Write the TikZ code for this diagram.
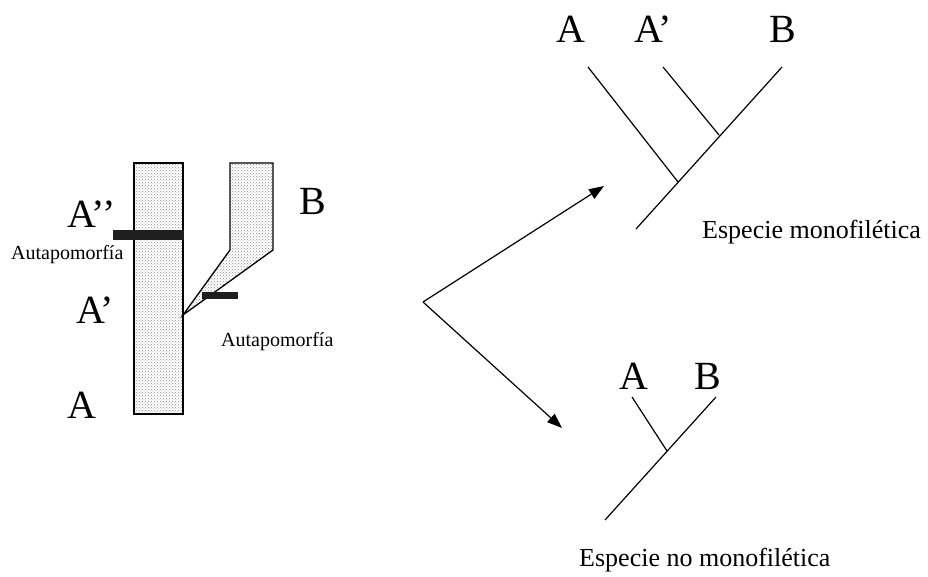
\documentclass[tikz,border=0pt]{standalone}
\usepackage{fontspec}
\setmainfont{Liberation Serif}
\usetikzlibrary{arrows.meta,patterns}
\begin{document}
\begin{tikzpicture}[x=1pt,y=-1pt,
  big/.style={font=\fontsize{40}{40}\selectfont, inner sep=0pt, anchor=base west},
  small/.style={font=\fontsize{20}{20}\selectfont, inner sep=0pt, anchor=base west},
  caption/.style={font=\fontsize{26}{26}\selectfont, inner sep=0pt, anchor=base west},
  branch/.style={line width=1.2pt, black},
  stipple/.style={draw=black, line width=1.3pt, pattern=crosshatch dots, pattern color=black!45},
  mark bar/.style={fill=black!88, draw=none},
  arrowline/.style={line width=1.2pt, -{Triangle[length=15pt,width=11pt]}}
]
\useasboundingbox (0,0) rectangle (928,577);

% lineage diagram
\path[stipple] (230,163) -- (273,163) -- (273,250) -- (183,315) -- (230,250) -- cycle;
\path[stipple] (134,163) rectangle (183,414);
\node[mark bar, minimum width=71pt, minimum height=10pt, inner sep=0pt] (bar1) at (148,235) {};
\node[mark bar, minimum width=36pt, minimum height=7pt, inner sep=0pt] (bar2) at (220,295) {};

\node[big] (App) at (67,228) {A’’};
\node[big] (Ap) at (76,323) {A’};
\node[big] (A) at (67,418) {A};
\node[big] (B) at (299,215) {B};
\node[small] (aut1) at (11,259) {Autapomorfía};
\node[small] (aut2) at (221,346) {Autapomorfía};

% arrows
\coordinate (v) at (423,302);
\coordinate (t1) at (604,186);
\coordinate (t2) at (562,428);
\draw[arrowline] (v) -- (t1);
\draw[arrowline] (v) -- (t2);

% top tree
\node[big] (tA) at (556,43) {A};
\node[big] (tAp) at (634,43) {A’};
\node[big] (tB) at (769,43) {B};
\coordinate (r1) at (636,229);
\coordinate (bt) at (782,67);
\coordinate (j1) at (678,182);
\coordinate (at) at (588,67);
\coordinate (j2) at (719,135);
\coordinate (apt) at (663,67);
\draw[branch] (r1) -- (bt);
\draw[branch] (at) -- (j1);
\draw[branch] (apt) -- (j2);
\node[caption] (c1) at (702,239) {Especie monofilética};

% bottom tree
\node[big] (bA) at (619,389) {A};
\node[big] (bB) at (694,389) {B};
\coordinate (r2) at (605,520);
\coordinate (bbt) at (716,397);
\coordinate (j3) at (667,451);
\coordinate (bat) at (632,397);
\draw[branch] (r2) -- (bbt);
\draw[branch] (bat) -- (j3);
\node[caption] (c2) at (579,566) {Especie no monofilética};
\end{tikzpicture}
\end{document}
